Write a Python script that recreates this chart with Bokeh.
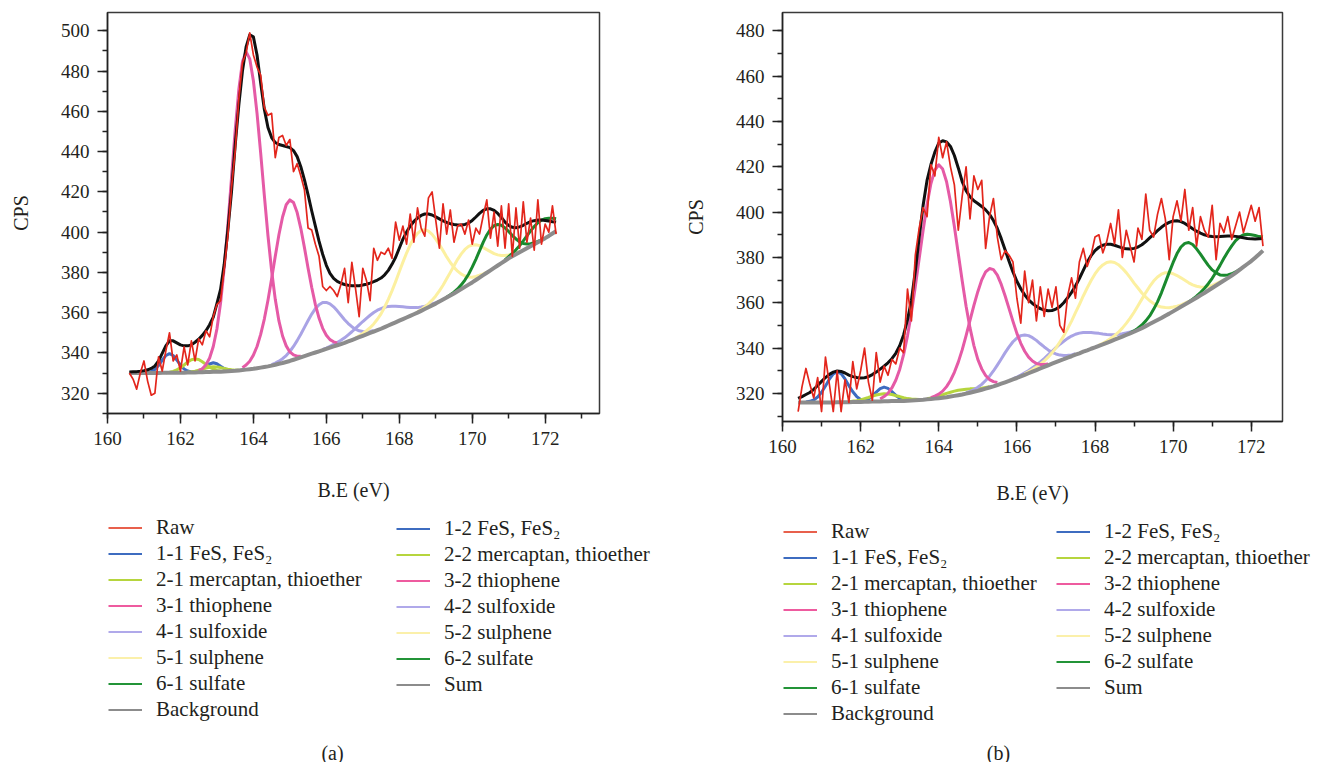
import numpy as np
from bokeh.embed import file_html
from bokeh.layouts import row
from bokeh.models import Label, Legend, LegendItem, Range1d, SingleIntervalTicker
from bokeh.plotting import figure
from bokeh.resources import INLINE

STEP = 0.1  # eV spacing of every sampled curve

FONT = "Liberation Serif"
INK = "#231f20"

RED = "#e3261c"
BLACK = "#111111"
GRAY = "#8c8c8c"
BLUE = "#3d6cc0"
LIME = "#b6d53e"
PINK = "#e55aa6"
LAVENDER = "#a9a3e5"
YELLOW = "#fcf0a0"
GREEN = "#1a8a2e"

PAGE_W = 1317
PAGE_H = 762
PLOT_H = 514  # height of the spectra row; the legend strip fills the rest

# ---------------------------------------------------------------- panel (a)
a_grid_start = 160.6
a_background = [
    330.0, 330.0, 330.0, 330.0, 330.0, 330.0, 330.0, 330.0, 330.0, 330.1,
    330.1, 330.1, 330.1, 330.2, 330.2, 330.2, 330.3, 330.3, 330.3, 330.4,
    330.4, 330.5, 330.5, 330.6, 330.6, 330.7, 330.8, 330.9, 331.0, 331.1,
    331.3, 331.5, 331.7, 331.9, 332.1, 332.4, 332.7, 333.0, 333.3, 333.7,
    334.1, 334.6, 335.0, 335.5, 336.0, 336.6, 337.2, 337.8, 338.4, 339.0,
    339.6, 340.2, 340.8, 341.4, 342.0, 342.6, 343.2, 343.8, 344.4, 345.0,
    345.7, 346.4, 347.1, 347.8, 348.5, 349.2, 349.9, 350.6, 351.3, 352.0,
    352.8, 353.6, 354.4, 355.2, 356.0, 356.8, 357.6, 358.4, 359.2, 360.0,
    360.9, 361.8, 362.7, 363.6, 364.5, 365.5, 366.5, 367.5, 368.5, 369.5,
    370.6, 371.7, 372.8, 373.9, 375.0, 376.2, 377.4, 378.6, 379.8, 381.0,
    382.2, 383.4, 384.6, 385.8, 387.0, 388.0, 389.0, 390.0, 391.0, 392.0,
    393.0, 394.0, 395.0, 396.0, 397.0, 398.1, 399.3, 400.5,
]
a_sum = [
    330.5, 330.6, 330.7, 330.9, 331.2, 331.6, 332.3, 333.5, 336.0, 339.8,
    343.5, 346.0, 346.0, 345.0, 344.0, 343.5, 343.5, 344.0, 345.3, 346.8,
    348.7, 351.0, 354.0, 357.8, 364.5, 371.5, 384.0, 401.0, 420.0, 443.0,
    463.0, 480.0, 492.0, 498.0, 497.0, 488.0, 474.0, 461.0, 452.0, 447.0,
    444.5, 443.5, 443.0, 442.5, 442.0, 440.5, 437.5, 432.5, 426.0, 418.5,
    410.5, 403.0, 395.5, 389.0, 383.5, 379.5, 377.0, 375.5, 374.6, 374.0,
    373.6, 373.4, 373.3, 373.4, 373.7, 374.1, 374.7, 375.4, 376.2, 377.2,
    378.8, 381.0, 384.0, 387.5, 392.0, 396.5, 400.0, 403.0, 405.3, 407.0,
    408.3, 409.0, 409.0, 408.5, 407.6, 406.6, 405.6, 404.8, 404.2, 403.8,
    403.5, 403.5, 403.8, 404.5, 405.8, 407.5, 409.3, 410.8, 411.6, 411.6,
    410.8, 409.3, 407.3, 405.0, 403.3, 402.4, 402.2, 402.6, 403.4, 404.4,
    405.2, 405.7, 406.0, 406.0, 405.8, 405.5, 405.2, 405.0,
]
a_raw = [
    330, 327, 322, 330, 336, 326, 319, 320, 338, 331,
    341, 350, 336, 339, 331, 343, 334, 346, 336, 347,
    344, 351, 348, 358, 364, 366, 382, 398, 422, 440,
    466, 484, 489, 499, 488, 482, 478, 462, 458, 459,
    437, 447, 448, 443, 446, 430, 434, 428, 421, 402,
    401, 394, 388, 373, 371, 373, 371, 368, 374, 382,
    365, 385, 372, 358, 382, 376, 366, 392, 386, 390,
    389, 392, 387, 405, 396, 403, 394, 409, 395, 412,
    402, 398, 417, 420, 406, 392, 414, 399, 411, 395,
    403, 404, 399, 406, 394, 402, 399, 408, 416, 397,
    410, 393, 413, 392, 414, 388, 412, 392, 415, 395,
    407, 391, 416, 394, 404, 400, 413, 399,
]
# fitted components: first energy, then height above the background
a_fes_1_start = 161.1
a_fes_1 = [0.2, 0.7, 1.8, 3.7, 6.3, 8.6, 9.5, 8.6, 6.3, 3.7, 1.8, 0.7, 0.2]
a_fes_2_start = 162.4
a_fes_2 = [0.2, 0.6, 1.5, 2.7, 4.0, 4.5, 4.0, 2.7, 1.5, 0.6, 0.2]
a_merc_1_start = 161.6
a_merc_1 = [0.1, 0.3, 0.7, 1.4, 2.4, 3.8, 5.2, 6.3, 6.7, 6.3, 5.2, 3.8, 2.4, 1.4,
            0.7, 0.3, 0.1]
a_merc_2_start = 162.2
a_merc_2 = [0.2, 0.3, 0.6, 1.0, 1.5, 2.0, 2.4, 2.5, 2.4, 2.0, 1.5, 1.0, 0.6, 0.3, 0.2]
a_thio_1_start = 162.5
a_thio_1 = [0.8, 1.7, 3.6, 7.0, 12.6, 21.3, 34.1, 51.4, 72.4, 95.9, 119.3, 139.4,
            153.1, 158.0, 154.2, 143.1, 126.6, 106.5, 85.2, 64.9, 47.1, 32.5,
            21.3, 13.4, 8.0, 4.5, 2.4, 1.2, 0.6]
a_thio_2_start = 163.7
a_thio_2 = [1.2, 2.3, 4.0, 6.8, 10.8, 16.5, 23.8, 32.9, 43.1, 53.9, 64.1, 72.5,
            78.1, 80.0, 78.1, 72.5, 64.1, 53.9, 43.1, 32.9, 23.8, 16.5, 10.8,
            6.8, 4.0, 2.3, 1.2]
a_sox_1_start = 164.5
a_sox_1 = [0.5, 0.8, 1.3, 2.1, 3.2, 4.7, 6.6, 8.9, 11.5, 14.3, 17.1, 19.7, 21.8,
           23.1, 23.6, 23.1, 21.8, 19.7, 17.1, 14.3, 11.5, 8.9, 6.6, 4.7, 3.2,
           2.1, 1.3, 0.8, 0.5]
a_sox_2_start = 165.9
a_sox_2 = [0.3, 0.4, 0.7, 1.0, 1.4, 1.9, 2.5, 3.3, 4.1, 5.1, 6.1, 7.1, 8.0, 8.8,
           9.5, 9.9, 10.0, 9.9, 9.5, 8.8, 8.0, 7.1, 6.1, 5.1, 4.1, 3.3, 2.5, 1.9,
           1.4, 1.0, 0.7, 0.4, 0.3]
a_sulph_1_start = 166.8
a_sulph_1 = [0.4, 0.7, 1.2, 1.8, 2.6, 3.8, 5.4, 7.4, 10.0, 13.0, 16.4, 20.2, 24.3,
             28.3, 32.0, 35.3, 37.8, 39.4, 40.0, 39.4, 37.8, 35.3, 32.0, 28.3,
             24.3, 20.2, 16.4, 13.0, 10.0, 7.4, 5.4, 3.8, 2.6, 1.8, 1.2, 0.7, 0.4]
a_sulph_2_start = 168.5
a_sulph_2 = [0.4, 0.6, 1.1, 1.7, 2.6, 3.8, 5.3, 7.1, 9.3, 11.5, 13.8, 15.9, 17.5,
             18.6, 19.0, 18.6, 17.5, 15.9, 13.8, 11.5, 9.3, 7.1, 5.3, 3.8, 2.6,
             1.7, 1.1, 0.6, 0.4]
a_sulf_1_start = 169.3
a_sulf_1 = [0.2, 0.4, 0.7, 1.2, 2.1, 3.4, 5.2, 7.6, 10.3, 13.3, 16.3, 18.8, 20.4,
            21.0, 20.4, 18.8, 16.3, 13.3, 10.3, 7.6, 5.2, 3.4, 2.1, 1.2, 0.7,
            0.4, 0.2]
a_sulf_2_start = 170.9
a_sulf_2 = [0.4, 0.8, 1.4, 2.2, 3.3, 4.6, 6.1, 7.6, 8.8, 9.7, 10.0, 9.7, 8.8, 7.6, 6.1]

# ---------------------------------------------------------------- panel (b)
b_grid_start = 160.4
b_background = [
    316.0, 316.0, 316.0, 316.0, 316.0, 316.0, 316.0, 316.0, 316.0, 316.0,
    316.1, 316.1, 316.1, 316.1, 316.2, 316.2, 316.2, 316.3, 316.3, 316.4,
    316.4, 316.4, 316.5, 316.5, 316.6, 316.6, 316.7, 316.7, 316.8, 316.9,
    317.0, 317.1, 317.2, 317.4, 317.5, 317.7, 317.9, 318.1, 318.3, 318.6,
    318.9, 319.2, 319.5, 319.9, 320.3, 320.7, 321.1, 321.6, 322.1, 322.6,
    323.1, 323.7, 324.3, 324.9, 325.5, 326.2, 326.8, 327.5, 328.2, 328.9,
    329.6, 330.3, 331.0, 331.7, 332.4, 333.1, 333.8, 334.5, 335.1, 335.8,
    336.4, 337.1, 337.7, 338.4, 339.0, 339.7, 340.3, 341.0, 341.6, 342.3,
    343.0, 343.7, 344.4, 345.1, 345.8, 346.5, 347.2, 348.0, 348.8, 349.7,
    350.6, 351.5, 352.4, 353.3, 354.3, 355.2, 356.2, 357.2, 358.2, 359.2,
    360.2, 361.2, 362.2, 363.3, 364.3, 365.4, 366.5, 367.6, 368.7, 369.8,
    370.9, 372.0, 373.2, 374.5, 375.8, 377.1, 378.4, 379.9, 381.4, 383.0,
]
b_sum = [
    317.8, 318.6, 319.5, 320.4, 321.8, 323.5, 325.3, 327.0, 328.4, 329.4,
    329.9, 329.7, 329.0, 328.1, 327.4, 327.0, 326.8, 326.9, 327.4, 328.3,
    329.4, 330.7, 332.0, 333.5, 335.3, 337.7, 341.0, 345.8, 352.5, 361.0,
    374.0, 389.0, 403.0, 414.0, 421.0, 426.5, 430.5, 431.5, 431.0, 429.0,
    425.0, 419.5, 413.5, 409.5, 406.8, 405.0, 403.8, 402.5, 401.0, 399.0,
    396.3, 392.8, 388.3, 383.3, 378.3, 373.6, 369.5, 366.2, 363.5, 361.3,
    359.7, 358.4, 357.4, 356.8, 356.5, 356.6, 357.2, 358.3, 360.0, 362.2,
    364.6, 367.4, 370.7, 374.3, 377.9, 380.8, 383.0, 384.5, 385.4, 385.8,
    385.8, 385.4, 384.8, 384.2, 383.8, 383.7, 384.0, 384.6, 385.6, 387.0,
    388.6, 390.2, 391.8, 393.3, 394.6, 395.5, 396.1, 396.2, 395.8, 395.0,
    393.9, 392.7, 391.6, 390.7, 390.0, 389.5, 389.2, 389.1, 389.2, 389.4,
    389.5, 389.5, 389.3, 389.0, 388.7, 388.4, 388.2, 388.1, 388.2, 388.4,
]
b_raw = [
    312, 323, 331, 324, 318, 327, 312, 336, 324, 312,
    330, 312, 326, 316, 334, 322, 330, 340, 325, 317,
    338, 325, 332, 328, 335, 333, 340, 338, 366, 352,
    381, 393, 402, 398, 421, 416, 433, 424, 431, 420,
    412, 392, 407, 420, 397, 416, 410, 414, 384, 398,
    406, 389, 379, 383, 381, 378, 362, 351, 374, 360,
    370, 352, 367, 354, 366, 358, 367, 350, 347, 363,
    371, 362, 378, 384, 376, 381, 389, 390, 382, 387,
    395, 386, 401, 380, 392, 385, 378, 393, 388, 408,
    392, 389, 399, 406, 397, 379, 398, 405, 396, 410,
    392, 402, 385, 398, 392, 389, 403, 379, 395, 391,
    398, 388, 394, 400, 391, 397, 403, 396, 402, 385,
]
b_fes_1_start = 160.6
b_fes_1 = [0.2, 0.5, 1.1, 2.4, 4.5, 7.3, 10.3, 12.6, 13.5, 12.6, 10.3, 7.3, 4.5,
           2.4, 1.1, 0.5, 0.2]
b_fes_2_start = 162.0
b_fes_2 = [0.2, 0.5, 1.2, 2.5, 4.2, 5.7, 6.3, 5.7, 4.2, 2.5, 1.2, 0.5, 0.2]
b_merc_1_start = 161.7
b_merc_1 = [0.2, 0.4, 0.6, 0.9, 1.4, 1.9, 2.4, 2.9, 3.2, 3.3, 3.2, 2.9, 2.4, 1.9,
            1.4, 0.9, 0.6, 0.4, 0.2]
b_merc_2_start = 163.7
b_merc_2 = [0.3, 0.5, 0.7, 1.0, 1.3, 1.7, 1.9, 2.1, 2.2, 2.1, 1.9, 1.7, 1.3, 1.0,
            0.7, 0.5, 0.3]
b_thio_1_start = 162.5
b_thio_1 = [1.1, 2.1, 3.5, 5.8, 9.2, 13.9, 20.4, 28.6, 38.6, 50.2, 62.5, 74.8,
            86.0, 95.1, 100.9, 103.0, 100.9, 95.1, 86.0, 74.8, 62.5, 50.2, 38.6,
            28.6, 20.4, 13.9, 9.2, 5.8, 3.5, 2.1, 1.1]
b_thio_2_start = 163.8
b_thio_2 = [0.6, 1.1, 1.8, 2.9, 4.7, 7.1, 10.4, 14.6, 19.7, 25.6, 31.9, 38.1,
            43.8, 48.5, 51.5, 52.5, 51.5, 48.5, 43.8, 38.1, 31.9, 25.6, 19.7,
            14.6, 10.4, 7.1, 4.7, 2.9, 1.8, 1.1, 0.6]
b_sox_1_start = 164.7
b_sox_1 = [0.4, 0.6, 1.0, 1.6, 2.4, 3.6, 5.0, 6.8, 8.8, 10.9, 13.1, 15.0, 16.6,
           17.6, 18.0, 17.6, 16.6, 15.0, 13.1, 10.9, 8.8, 6.8, 5.0, 3.6, 2.4,
           1.6, 1.0, 0.6, 0.4]
b_sox_2_start = 165.9
b_sox_2 = [0.3, 0.4, 0.6, 0.9, 1.2, 1.7, 2.2, 2.9, 3.7, 4.6, 5.5, 6.4, 7.2, 7.9,
           8.5, 8.9, 9.0, 8.9, 8.5, 7.9, 7.2, 6.4, 5.5, 4.6, 3.7, 2.9, 2.2, 1.7,
           1.2, 0.9, 0.6, 0.4, 0.3]
b_sulph_1_start = 166.2
b_sulph_1 = [0.4, 0.6, 0.9, 1.3, 1.9, 2.6, 3.6, 4.8, 6.3, 8.2, 10.3, 12.8, 15.5,
             18.5, 21.5, 24.6, 27.5, 30.1, 32.4, 34.1, 35.1, 35.5, 35.1, 34.1,
             32.4, 30.1, 27.5, 24.6, 21.5, 18.5, 15.5, 12.8, 10.3, 8.2, 6.3, 4.8,
             3.6, 2.6, 1.9, 1.3, 0.9, 0.6, 0.4]
b_sulph_2_start = 168.1
b_sulph_2 = [0.3, 0.5, 0.8, 1.2, 1.8, 2.6, 3.7, 5.1, 6.7, 8.6, 10.7, 12.8, 14.8,
             16.6, 18.1, 19.0, 19.3, 19.0, 18.1, 16.6, 14.8, 12.8, 10.7, 8.6, 6.7,
             5.1, 3.7, 2.6, 1.8, 1.2, 0.8, 0.5, 0.3]
b_sulf_1_start = 168.9
b_sulf_1 = [0.2, 0.4, 0.8, 1.4, 2.3, 3.6, 5.6, 8.0, 11.1, 14.6, 18.2, 21.6, 24.5,
            26.4, 27.0, 26.4, 24.5, 21.6, 18.2, 14.6, 11.1, 8.0, 5.6, 3.6, 2.3,
            1.4, 0.8, 0.4, 0.2]
b_sulf_2_start = 170.4
b_sulf_2 = [0.2, 0.4, 0.7, 1.2, 2.0, 3.0, 4.3, 6.0, 7.8, 9.8, 11.6, 13.1, 14.2,
            14.5, 14.2, 13.1, 11.6, 9.8, 7.8, 6.0]

# legend entries, left column then right column
legend_left = [
    ("Raw", "#e8604c"),
    ("1-1 FeS, FeS\u2082", BLUE),
    ("2-1 mercaptan, thioether", LIME),
    ("3-1 thiophene", "#ee5b9f"),
    ("4-1 sulfoxide", "#b0a9ea"),
    ("5-1 sulphene", "#fbf0aa"),
    ("6-1 sulfate", "#239438"),
    ("Background", GRAY),
]
legend_right = [
    ("1-2 FeS, FeS\u2082", BLUE),
    ("2-2 mercaptan, thioether", LIME),
    ("3-2 thiophene", "#ee5b9f"),
    ("4-2 sulfoxide", "#b0a9ea"),
    ("5-2 sulphene", "#fbf0aa"),
    ("6-2 sulfate", "#239438"),
    ("Sum", GRAY),
]


def make_panel(grid_start, background, total, raw, components, x_end, y_lo, y_hi,
               frame_w, frame_h, left, right, label_standoff):
    n = len(background)
    x = grid_start + STEP * np.arange(n)
    bg = np.asarray(background, dtype=float)

    p = figure(frame_width=frame_w, frame_height=frame_h,
               min_border_left=left, min_border_right=right,
               min_border_top=12, min_border_bottom=PLOT_H - 12 - frame_h,
               x_range=Range1d(160, x_end), y_range=Range1d(y_lo, y_hi),
               output_backend="svg", toolbar_location=None,
               background_fill_color="white", border_fill_color="white")
    p.grid.visible = False
    p.outline_line_color = "#3a3a3a"
    p.outline_line_width = 1.5

    p.xaxis.ticker = SingleIntervalTicker(interval=2, num_minor_ticks=2)
    p.yaxis.ticker = SingleIntervalTicker(interval=20, num_minor_ticks=2)
    p.xaxis.axis_label = "B.E (eV)"
    p.yaxis.axis_label = "CPS"
    for ax in p.axis:
        ax.axis_line_color = "#222222"
        ax.axis_line_width = 1.5
        ax.major_tick_line_color = "#222222"
        ax.minor_tick_line_color = "#222222"
        ax.major_tick_line_width = 1.5
        ax.minor_tick_line_width = 1.5
        ax.major_tick_in = 0
        ax.major_tick_out = 10
        ax.minor_tick_in = 0
        ax.minor_tick_out = 5
        ax.major_label_text_font = FONT
        ax.major_label_text_font_size = "19px"
        ax.major_label_text_color = INK
        ax.major_label_standoff = 8
        ax.axis_label_text_font = FONT
        ax.axis_label_text_font_size = "20px"
        ax.axis_label_text_font_style = "normal"
        ax.axis_label_text_color = INK
    p.xaxis.axis_label_standoff = label_standoff
    p.yaxis.axis_label_standoff = 26

    for start, heights, color in components:
        i0 = int(round((start - grid_start) / STEP))
        i1 = i0 + len(heights)
        p.line(x[i0:i1], bg[i0:i1] + np.asarray(heights), line_color=color,
               line_width=3, line_join="round")
    p.line(x, bg, line_color=GRAY, line_width=4)
    p.line(x, total, line_color=BLACK, line_width=3, line_join="round")
    p.line(x, raw, line_color=RED, line_width=1.7, line_join="round")
    return p


def add_key(k, dx, dy, entries):
    """One legend column; (dx, dy) is its lower-left corner inside the strip."""
    items = []
    for label, color in entries:
        swatch = k.line(np.array([np.nan]), np.array([np.nan]), line_color=color,
                        line_width=2)
        items.append(LegendItem(label=label, renderers=[swatch]))
    k.add_layout(Legend(items=items, location=(dx, dy), orientation="vertical",
                        padding=0, margin=0, spacing=1,
                        glyph_width=34, glyph_height=25, label_height=25,
                        label_standoff=14, label_text_font=FONT,
                        label_text_font_size="21px", label_text_color=INK,
                        label_text_baseline="middle",
                        border_line_color=None, background_fill_alpha=0),
                 "center")


panel_a = make_panel(
    a_grid_start, a_background, a_sum, a_raw,
    [(a_fes_1_start, a_fes_1, BLUE), (a_fes_2_start, a_fes_2, BLUE),
     (a_merc_1_start, a_merc_1, LIME), (a_merc_2_start, a_merc_2, LIME),
     (a_sox_1_start, a_sox_1, LAVENDER), (a_sox_2_start, a_sox_2, LAVENDER),
     (a_sulph_1_start, a_sulph_1, YELLOW), (a_sulph_2_start, a_sulph_2, YELLOW),
     (a_sulf_1_start, a_sulf_1, GREEN), (a_sulf_2_start, a_sulf_2, GREEN),
     (a_thio_1_start, a_thio_1, PINK), (a_thio_2_start, a_thio_2, PINK)],
    x_end=173.49, y_lo=309.9, y_hi=509.1, frame_w=492, frame_h=401,
    left=107, right=61, label_standoff=31)

panel_b = make_panel(
    b_grid_start, b_background, b_sum, b_raw,
    [(b_fes_1_start, b_fes_1, BLUE), (b_fes_2_start, b_fes_2, BLUE),
     (b_merc_1_start, b_merc_1, LIME), (b_merc_2_start, b_merc_2, LIME),
     (b_sox_1_start, b_sox_1, LAVENDER), (b_sox_2_start, b_sox_2, LAVENDER),
     (b_sulph_1_start, b_sulph_1, YELLOW), (b_sulph_2_start, b_sulph_2, YELLOW),
     (b_sulf_1_start, b_sulf_1, GREEN), (b_sulf_2_start, b_sulf_2, GREEN),
     (b_thio_1_start, b_thio_1, PINK), (b_thio_2_start, b_thio_2, PINK)],
    x_end=172.8, y_lo=307.6, y_hi=488.1, frame_w=500, frame_h=409,
    left=122, right=35, label_standoff=26)

# strip under both spectra: the two-column legends and the panel captions
strip_h = PAGE_H - PLOT_H
key = figure(width=PAGE_W, height=strip_h, min_border=0,
             x_range=Range1d(0, PAGE_W), y_range=Range1d(0, strip_h),
             x_axis_type=None, y_axis_type=None,
             output_backend="svg", toolbar_location=None,
             background_fill_color="white", border_fill_color="white")
key.grid.visible = False
key.outline_line_color = None
add_key(key, 108, 40.5, legend_left)
add_key(key, 396, 65.5, legend_right)
add_key(key, 783, 35.8, legend_left)
add_key(key, 1056, 61.8, legend_right)
for cx, caption in ((332, "(a)"), (998, "(b)")):
    key.add_layout(Label(x=cx, y=PAGE_H - 752, text=caption, text_font=FONT,
                         text_font_size="20px", text_color=INK, text_align="center",
                         text_baseline="middle"))

open("out.html", "w").write(file_html([row(panel_a, panel_b), key], INLINE))
